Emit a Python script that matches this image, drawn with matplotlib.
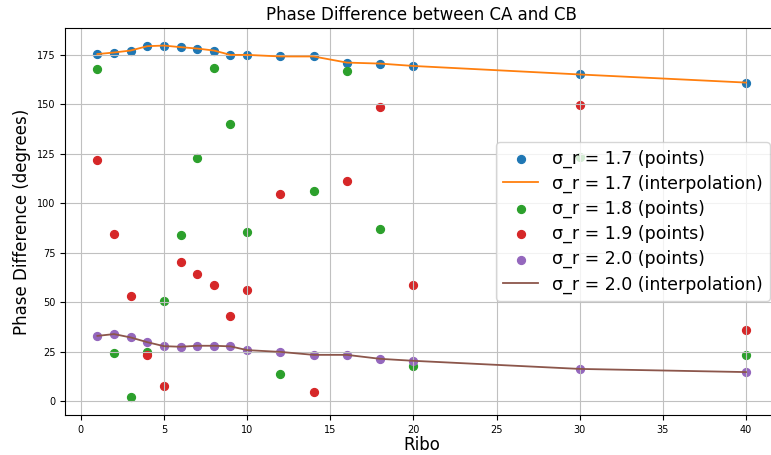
import numpy as np
import matplotlib
matplotlib.use("Agg")
import matplotlib.pyplot as plt

# ribo values (x axis)
ribo = [1, 2, 3, 4, 5, 6, 7, 8, 9, 10, 12, 14, 16, 18, 20, 30, 40]

# phase difference (degrees) for each sigma_r
phase_17 = [175.4, 176.2, 177.2, 179.4, 179.7, 178.9, 178.2, 177.2, 175.0, 175.0,
            174.2, 174.2, 171.1, 170.6, 169.4, 165.1, 161.0]
phase_18 = [168.1, 24.3, 1.9, 24.6, 50.6, 83.8, 122.8, 168.6, 140.3, 85.6,
            13.5, 106.4, 166.9, 87.2, 18.0, 123.3, 23.1]
phase_19 = [121.7, 84.5, 53.0, 23.1, 7.9, 70.5, 64.1, 58.5, 43.0, 56.1,
            104.9, 4.7, 111.3, 148.5, 58.5, 149.9, 35.9]
phase_20 = [33.0, 33.9, 32.2, 29.8, 27.8, 27.5, 28.0, 28.0, 27.7, 25.8,
            24.9, 23.4, 23.4, 21.4, 20.4, 16.3, 14.7]

fig = plt.figure(figsize=(7.71, 4.55), dpi=100)
ax = fig.add_axes([0.0843, 0.0879, 1.0096 - 0.0843, 0.9385 - 0.0879])

ax.scatter(ribo, phase_17, color="C0", s=32, label="σ_r = 1.7 (points)")
ax.plot(ribo, phase_17, color="C1", lw=1.3, label="σ_r = 1.7 (interpolation)")
ax.scatter(ribo, phase_18, color="C2", s=32, label="σ_r = 1.8 (points)")
ax.scatter(ribo, phase_19, color="C3", s=32, label="σ_r = 1.9 (points)")
ax.scatter(ribo, phase_20, color="C4", s=32, label="σ_r = 2.0 (points)")
ax.plot(ribo, phase_20, color="C5", lw=1.3, label="σ_r = 2.0 (interpolation)")

ax.set_title("Phase Difference between CA and CB", fontsize=12)
ax.set_xlabel("Ribo", fontsize=12, labelpad=1)
ax.set_ylabel("Phase Difference (degrees)", fontsize=12)
ax.tick_params(labelsize=7)
ax.grid(True, color="#c0c0c0")
ax.legend(loc="center right", fontsize=12.5, labelspacing=0.4)

fig.savefig("out.png", dpi=100)
